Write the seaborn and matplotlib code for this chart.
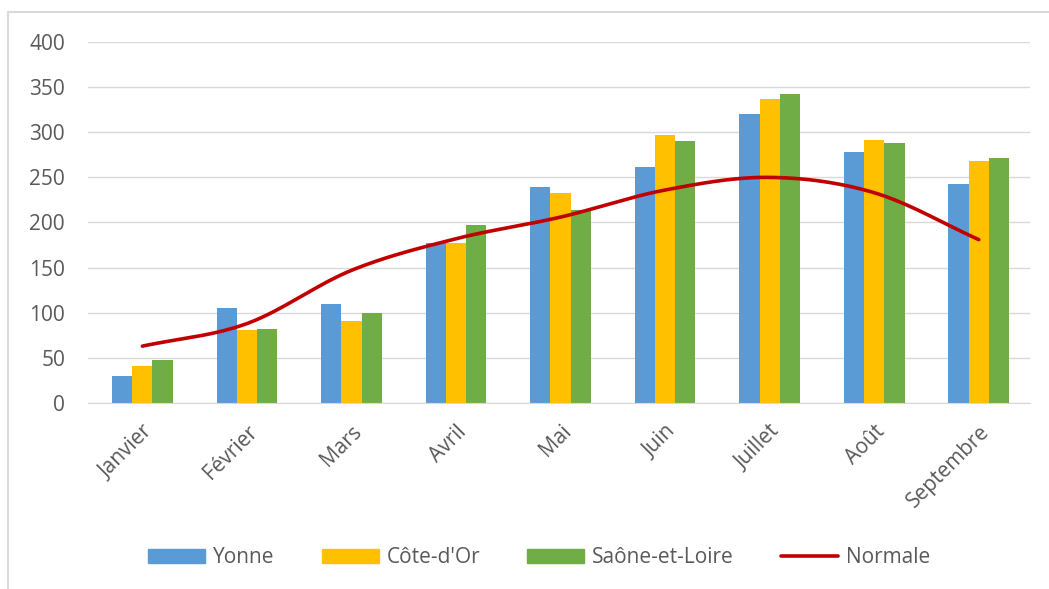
import numpy as np
import pandas as pd
import matplotlib
matplotlib.use("Agg")
import matplotlib.pyplot as plt
import seaborn as sns
from matplotlib.lines import Line2D
from matplotlib.patches import Patch

mois = ["Janvier", "Février", "Mars", "Avril", "Mai", "Juin", "Juillet", "Août", "Septembre"]
yonne = [30, 105, 110, 177, 239, 261, 320, 278, 243]
cote_dor = [41, 81, 91, 177, 233, 297, 337, 291, 268]
saone = [48, 82, 100, 197, 214, 290, 342, 288, 271]
normale = [63, 88, 147, 182, 206, 236, 250, 233, 181]

series = ["Yonne", "Côte-d'Or", "Saône-et-Loire"]
couleurs = ["#5B9BD5", "#FFC000", "#70AD47"]
rouge = "#C00000"
gris = "#595959"

df = pd.DataFrame({"Mois": mois * 3,
                   "Valeur": yonne + cote_dor + saone,
                   "Serie": sum([[s] * len(mois) for s in series], [])})

sns.set_style("white")
plt.rcParams["font.family"] = ["Open Sans", "DejaVu Sans"]

fig = plt.figure(figsize=(10.49, 5.89), dpi=100)
ax = fig.add_axes([0.0839, 0.3158, 0.898, 0.6129])

sns.barplot(data=df, x="Mois", y="Valeur", hue="Serie", palette=couleurs,
            saturation=1, width=0.58, gap=0, linewidth=0, ax=ax,
            legend=False, errorbar=None)


# Excel style smoothed line (Catmull-Rom through the monthly points)
def catmull_rom(y, n=30):
    pts = np.array(y, dtype=float)
    p = np.concatenate([[2 * pts[0] - pts[1]], pts, [2 * pts[-1] - pts[-2]]])
    xs, ys = [], []
    for i in range(1, len(p) - 2):
        t = np.linspace(0, 1, n, endpoint=(i == len(p) - 3))
        p0, p1, p2, p3 = p[i - 1], p[i], p[i + 1], p[i + 2]
        yy = 0.5 * ((2 * p1) + (-p0 + p2) * t + (2 * p0 - 5 * p1 + 4 * p2 - p3) * t ** 2
                    + (-p0 + 3 * p1 - 3 * p2 + p3) * t ** 3)
        xs.extend(i - 1 + t)
        ys.extend(yy)
    return np.array(xs), np.array(ys)


xs, ys = catmull_rom(normale)
ax.plot(xs, ys, color=rouge, linewidth=2.6, solid_capstyle="round", zorder=5)

ax.set_xlim(-0.52, 8.49)
ax.set_ylim(0, 400)
ax.set_yticks(range(0, 401, 50))
ax.yaxis.grid(True, color="#D9D9D9", linewidth=1)
ax.set_axisbelow(True)
for s in ["top", "right", "left"]:
    ax.spines[s].set_visible(False)
ax.spines["bottom"].set_color("#D9D9D9")
ax.set_xlabel("")
ax.set_ylabel("")
ax.tick_params(axis="both", length=0, colors=gris, labelsize=15)
ax.tick_params(axis="y", pad=16.5)
ax.tick_params(axis="x", pad=13)
plt.setp(ax.get_xticklabels(), rotation=45, ha="right", rotation_mode="anchor")

handles = [Patch(color=c, label=s) for s, c in zip(series, couleurs)]
handles.append(Line2D([0], [0], color=rouge, linewidth=2.6, label="Normale"))
fig.legend(handles=handles, loc="center", bbox_to_anchor=(0.514, 0.053), ncol=4,
           frameon=False, fontsize=15, labelcolor=gris, handlelength=2.74,
           handleheight=0.61, columnspacing=2.25, handletextpad=0.38)

# cadre du graphique
fig.add_artist(Line2D([8 / 1049, 1], [1 - 12 / 589, 1 - 12 / 589], color="#D9D9D9", linewidth=1.5))
fig.add_artist(Line2D([8 / 1049, 8 / 1049], [0, 1 - 12 / 589], color="#D9D9D9", linewidth=1.5))

fig.savefig("out.png", dpi=100)
